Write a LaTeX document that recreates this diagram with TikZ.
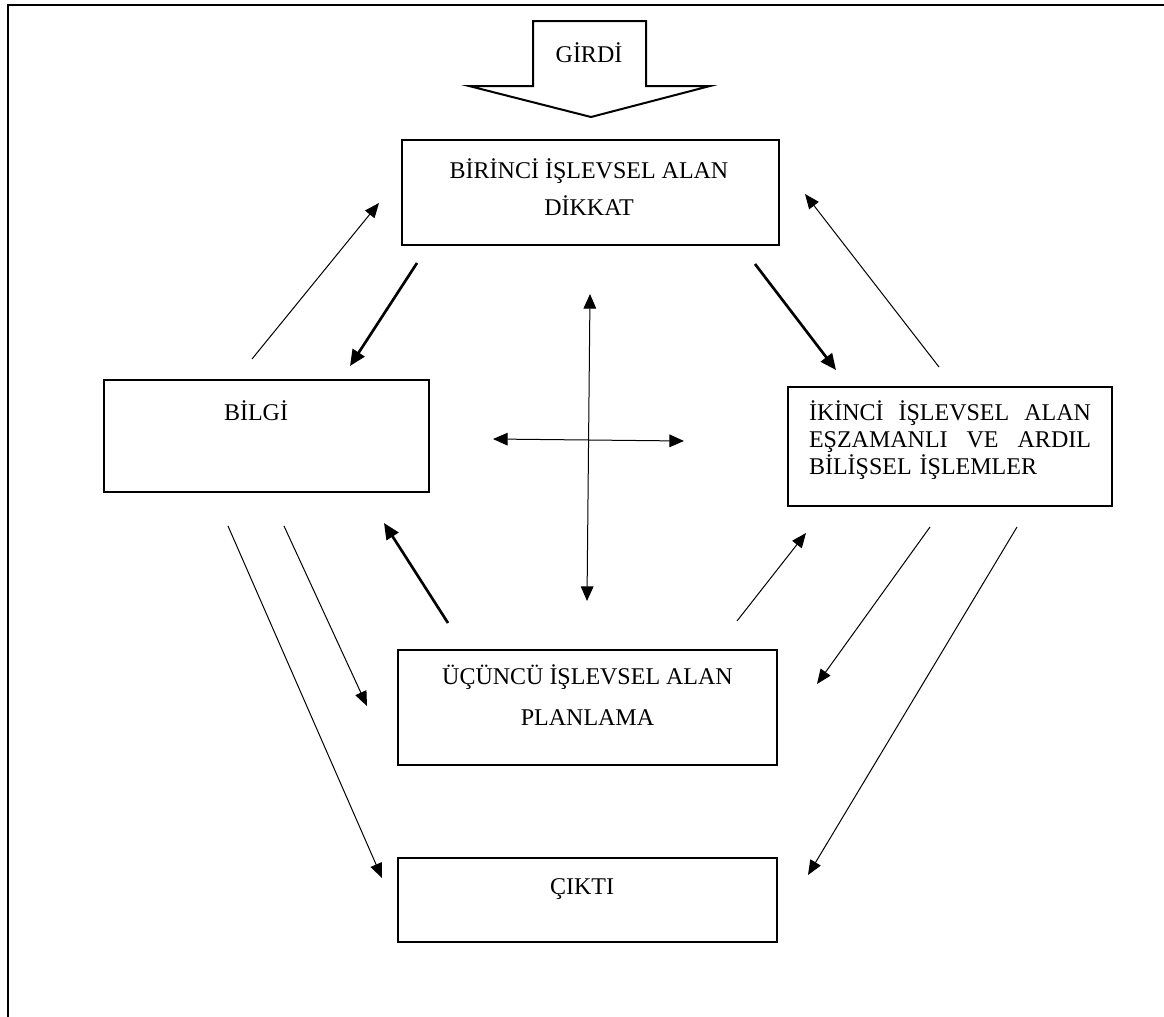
\documentclass[tikz,border=0pt]{standalone}
\usepackage{fontspec}
\setmainfont{Liberation Serif}
\usetikzlibrary{arrows.meta}

\begin{document}
\begin{tikzpicture}[x=0.75pt,y=-0.75pt,
    kutu/.style={draw, line width=1.5pt, inner sep=0pt},
    yazi/.style={inner sep=0pt, align=center, font=\fontsize{18pt}{#1}\selectfont},
    yazi/.default=27.75pt,
    ince/.style={-{Triangle[length=11pt,width=9pt]}, line width=0.75pt},
    kalin/.style={-{Triangle[length=12pt,width=10.5pt]}, line width=2pt},
    cift/.style={{Triangle[length=11pt,width=9.5pt]}-{Triangle[length=11pt,width=9.5pt]}, line width=0.75pt}]
    \useasboundingbox (0,0) rectangle (1164,1017);
    \draw [line width=1.5pt] (8,1017) -- (8,5) -- (1164,5);

    \draw [line width=1.5pt, line join=miter] (533,21) -- (646,21) -- (646,86) -- (710,86) -- (591,117) -- (469,86) -- (533,86) -- cycle;
    \node [yazi] (girdi) at (589,53) {GİRDİ};

    \node [kutu, minimum width=282.75pt, minimum height=78.75pt] (birinci) at (590.5,192.5) {};
    \node [yazi=27.75pt] (birinci-t) at (589,187) {BİRİNCİ İŞLEVSEL ALAN\\DİKKAT};

    \node [kutu, minimum width=243.75pt, minimum height=84pt] (bilgi) at (266.5,436) {};
    \node [yazi] (bilgi-t) at (256,411) {BİLGİ};

    \node [kutu, minimum width=243pt, minimum height=89.25pt] (ikinci) at (950,446.5) {};
    \node [yazi=20.25pt, text width=211.5pt, align=left] (ikinci-t) at (950,440)
        {\leavevmode\hbox to 211.5pt{İKİNCİ\hfill İŞLEVSEL\hfill ALAN}\\\leavevmode\hbox to 211.5pt{EŞZAMANLI\hfill VE\hfill ARDIL}\\BİLİŞSEL İŞLEMLER};

    \node [kutu, minimum width=284.25pt, minimum height=86.25pt] (ucuncu) at (587.5,707.5) {};
    \node [yazi=30.75pt] (ucuncu-t) at (587.5,695) {ÜÇÜNCÜ İŞLEVSEL ALAN\\PLANLAMA};

    \node [kutu, minimum width=284.25pt, minimum height=63pt] (cikti) at (587.5,900) {};
    \node [yazi] (cikti-t) at (582,889) {ÇIKTI};

    \coordinate (bilgi-c1) at (252,359);   \coordinate (birinci-c1) at (379,203);
    \coordinate (birinci-c2) at (417,263); \coordinate (bilgi-c2) at (350,366);
    \coordinate (birinci-c3) at (755,264); \coordinate (ikinci-c1) at (836,370);
    \coordinate (ikinci-c2) at (939,367);  \coordinate (birinci-c4) at (805,194);
    \coordinate (ust) at (590,294);        \coordinate (alt) at (587,601);
    \coordinate (sol) at (493,439);        \coordinate (sag) at (684,441);
    \coordinate (bilgi-c3) at (228,526);   \coordinate (cikti-c1) at (382,878);
    \coordinate (bilgi-c4) at (284,526);   \coordinate (ucuncu-c1) at (367,706);
    \coordinate (ucuncu-c2) at (448,623);  \coordinate (bilgi-c5) at (384,523);
    \coordinate (ucuncu-c3) at (737,621);  \coordinate (ikinci-c3) at (806,533);
    \coordinate (ikinci-c4) at (930,527);  \coordinate (ucuncu-c4) at (817,684);
    \coordinate (ikinci-c5) at (1017,527); \coordinate (cikti-c2) at (808,875);

    \draw [ince] (bilgi-c1) -- (birinci-c1);
    \draw [kalin] (birinci-c2) -- (bilgi-c2);
    \draw [kalin] (birinci-c3) -- (ikinci-c1);
    \draw [ince] (ikinci-c2) -- (birinci-c4);
    \draw [cift] (ust) -- (alt);
    \draw [cift] (sol) -- (sag);
    \draw [ince] (bilgi-c3) -- (cikti-c1);
    \draw [ince] (bilgi-c4) -- (ucuncu-c1);
    \draw [kalin] (ucuncu-c2) -- (bilgi-c5);
    \draw [ince] (ucuncu-c3) -- (ikinci-c3);
    \draw [ince] (ikinci-c4) -- (ucuncu-c4);
    \draw [ince] (ikinci-c5) -- (cikti-c2);
\end{tikzpicture}
\end{document}
